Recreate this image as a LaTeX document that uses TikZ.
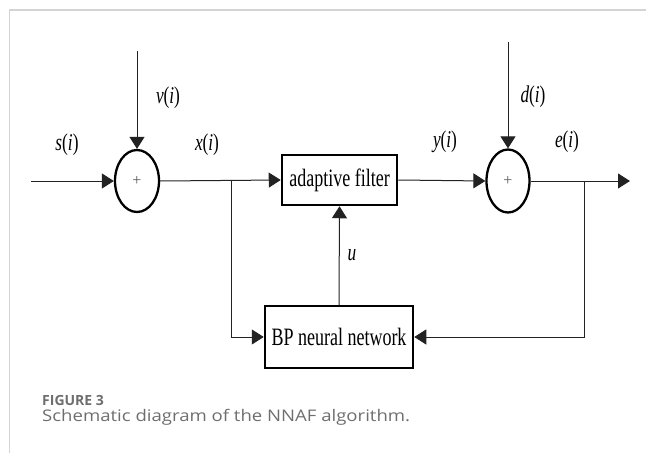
\documentclass[tikz,border=0pt]{standalone}
\usepackage{fontspec}
\setmainfont{Liberation Serif}
\newfontfamily\capfont{Open Sans}
\usetikzlibrary{shapes.geometric,arrows.meta}
\definecolor{framegray}{HTML}{D4D4D4}
\definecolor{capgray}{HTML}{6E6E6E}
\definecolor{wire}{HTML}{222222}
% condensed serif lettering used throughout the block diagram
\newcommand\cond[1]{\scalebox{0.72}[1]{#1}}
\newcommand\sig[1]{\cond{\textit{#1}(\textit{i})}}
\tikzset{
  wirestyle/.style={draw=wire, line width=1pt},
  arr/.style={wirestyle, -{Triangle[length=12pt,width=15pt]}},
  summer/.style={ellipse, draw=black, line width=2.3pt, minimum width=44pt, minimum height=62pt, inner sep=0pt},
  blockbox/.style={rectangle, draw=black, line width=2.5pt, inner sep=0pt},
  lbl/.style={inner sep=0pt, font=\fontsize{24}{28}\selectfont},
  plus/.style={font=\fontsize{16}{16}\selectfont, text=black!65},
}
\begin{document}
\begin{tikzpicture}[x=1pt,y=-1pt]
\useasboundingbox (0,0) rectangle (646,455);
% page frame
\draw[framegray, line width=1.4pt] (9.5,453) -- (9.5,10) -- (646,10);

% summing junctions and blocks
\node[summer, plus] (s1) at (137,181) {+};
\node[summer, plus, minimum width=43pt, minimum height=63pt] (s2) at (508,181) {+};
\node[blockbox, minimum width=115pt, minimum height=50pt] (af) at (339.5,180)
  {\fontsize{25}{28}\selectfont\cond{adaptive filter}};
\node[blockbox, minimum width=148pt, minimum height=62pt] (bp) at (339,337)
  {\fontsize{25}{28}\selectfont\cond{BP neural network}};

% free ends and branch points
\coordinate (in) at (31,181);
\coordinate (vtop) at (137,51);
\coordinate (dtop) at (508,42);
\coordinate (out) at (630,181);
\coordinate (j1) at (231,181);
\coordinate (j2) at (584,181);

% signal flow
\draw[arr] (in) -- (s1.west);
\draw[arr] (vtop) -- (s1.north);
\draw[arr] (s1.east) -- (af.west);
\draw[arr] (af.east) -- (s2.west);
\draw[arr] (dtop) -- (s2.north);
\draw[arr] (s2.east) -- (out);
\draw[arr] (j1) |- (bp.west);
\draw[arr] (j2) |- (bp.east);
\draw[arr] (bp.north) -- (af.south);

% signal labels
\node[lbl] (ls) at (67,145) {\sig{s}};
\node[lbl] (lv) at (168,98) {\sig{v}};
\node[lbl] (lx) at (207,145) {\sig{x}};
\node[lbl] (ly) at (445,142) {\sig{y}};
\node[lbl] (ld) at (533,97) {\sig{d}};
\node[lbl] (le) at (567,142) {\sig{e}};
\node[lbl] (lu) at (352,255) {\cond{\textit{u}}};

% caption
\node[anchor=base west, inner sep=0pt, text=capgray, font=\capfont\bfseries\fontsize{14}{16}\selectfont] (cap1) at (42,405) {FIGURE 3};
\node[anchor=base west, inner sep=0pt, text=capgray, font=\capfont\fontsize{16}{19}\selectfont] (cap2) at (42,421)
  {\scalebox{1.16}[1]{Schematic diagram of the NNAF algorithm.}};
\end{tikzpicture}
\end{document}
